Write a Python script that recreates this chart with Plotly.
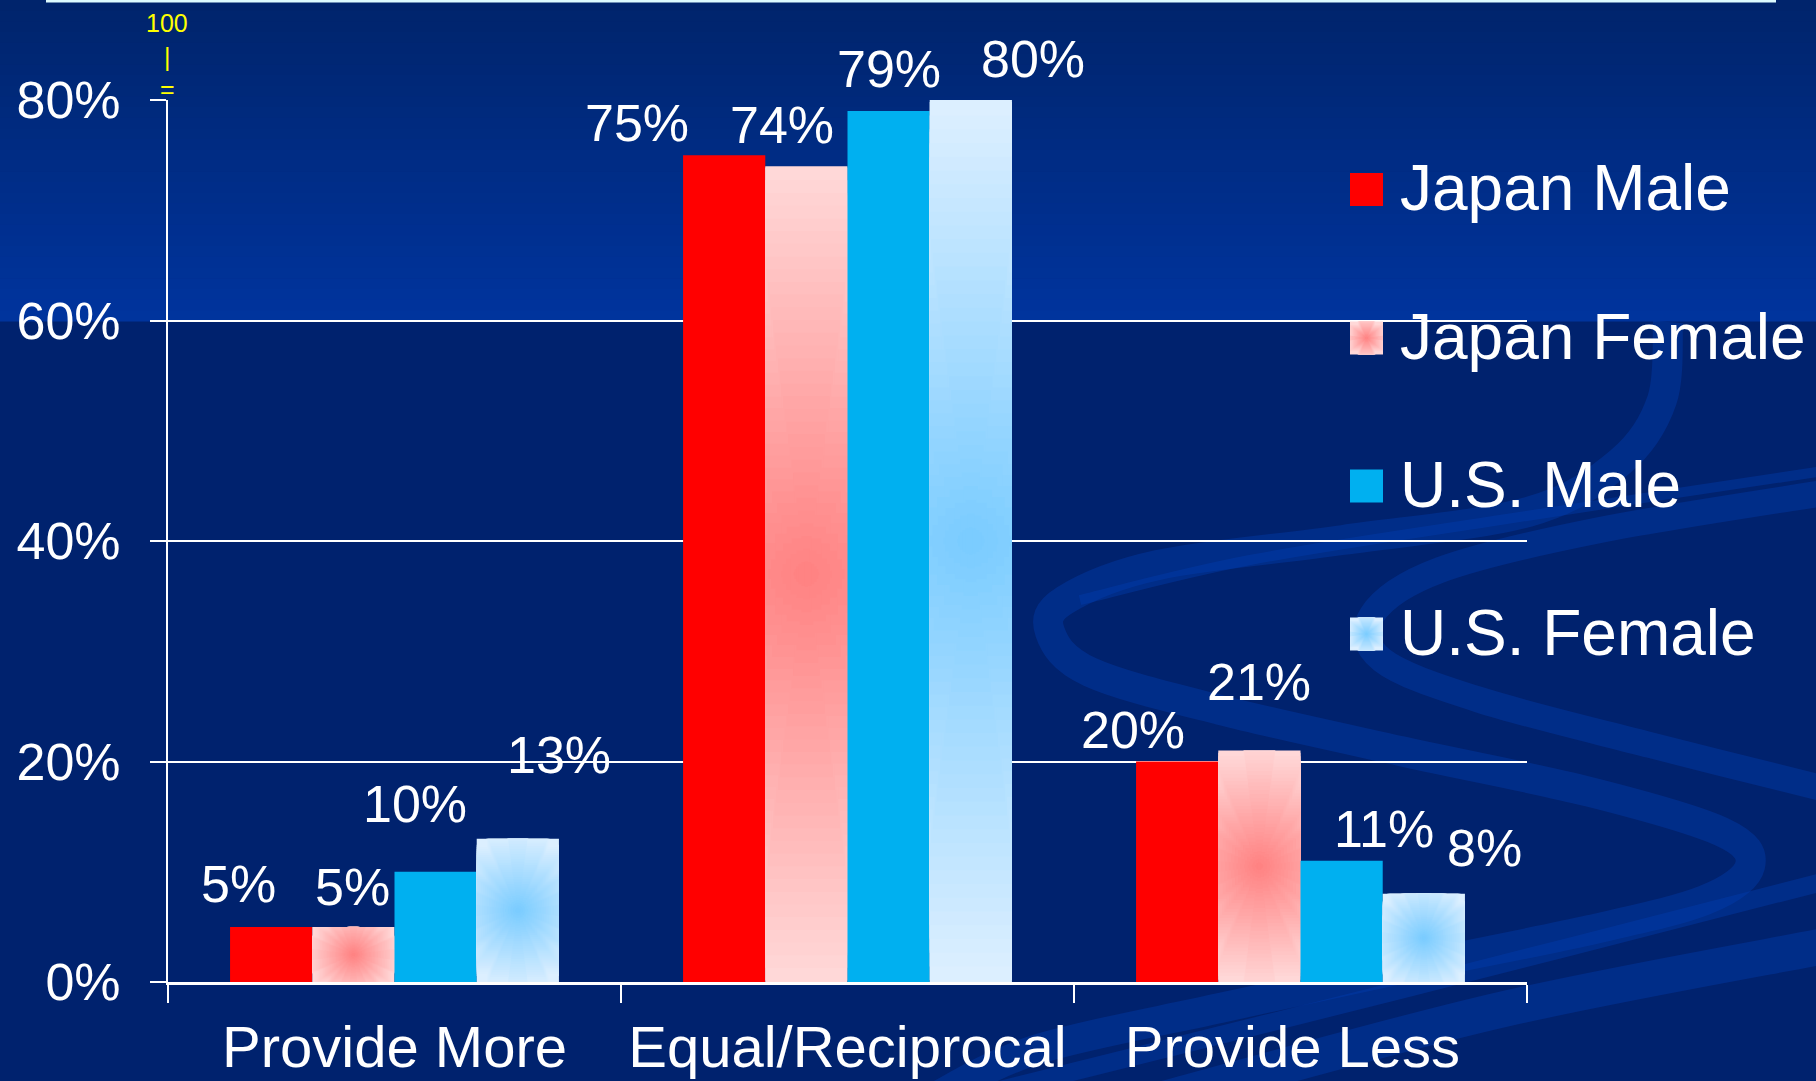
import math
import plotly.graph_objects as go

# ---- data ----
categories = ["Provide More", "Equal/Reciprocal", "Provide Less"]
category_text = ["Provide More", "Equal/Reciprocal", "Provide Less\u00a0"]
series_names = ["Japan Male", "Japan Female", "U.S. Male", "U.S. Female"]
japan_male = [5, 75, 20]
japan_female = [5, 74, 21]
us_male = [10, 79, 11]
us_female = [13, 80, 8]
y_ticks = [0, 20, 40, 60, 80]
y_tick_text = [f"{v}%" for v in y_ticks]

# ---- layout constants (px) ----
FIG_W, FIG_H = 1816, 1081
M_L, M_R, M_T, M_B = 168, 289, 100, 99
PLOT_W = FIG_W - M_L - M_R
PLOT_H = FIG_H - M_T - M_B
Y_MAX = 80
BARGAP = 0.274
SLOT = (1 - BARGAP) / 4          # bar width in category units
PX_X = PLOT_W / len(categories)  # px per category unit
PX_Y = PLOT_H / Y_MAX            # px per percent
FONT = "Liberation Sans, Arial, sans-serif"

# label placement relative to each bar top centre (px): one row per series
label_offsets = [
    [(-33, 43), (-87, 32), (-44, 32)],
    [(-1, 40), (-24, 41), (0, 68)],
    [(-21, 68), (0, 42), (42, 32)],
    [(41, 84), (62, 41), (61, 46)],
]


def rgb(h):
    h = h.lstrip("#")
    return tuple(int(h[i:i + 2], 16) for i in (0, 2, 4))


def mix(c1, c2, t):
    a, b = rgb(c1), rgb(c2)
    return "rgb(%d,%d,%d)" % tuple(round(a[i] + (b[i] - a[i]) * t) for i in range(3))


def px_x(x):
    return (x - M_L) / PLOT_W


def px_y(y):
    return (FIG_H - M_B - y) / PLOT_H


def slot_center(j):
    return -0.5 + BARGAP / 2 + (j + 0.5) * SLOT


series_styles = [
    ("#FF0000", None),
    ("#FFD8D8", "#FF8080"),
    ("#00B0F0", None),
    ("#DCEFFF", "#78CBFF"),
]
series_values = [japan_male, japan_female, us_male, us_female]

# a disc of radius 1 approximated by the union of centred rectangles
N_PARTS = 6
DISC_PARTS = [(math.cos(math.radians((i + 0.5) * 90 / N_PARTS)),
               math.sin(math.radians((i + 0.5) * 90 / N_PARTS))) for i in range(N_PARTS)]

fig = go.Figure()
N_LAYERS = 32

for j, (name, vals, (edge, centre)) in enumerate(zip(series_names, series_values, series_styles)):
    fig.add_trace(go.Bar(
        x=categories, y=vals, name=name, width=SLOT,
        offset=slot_center(j) - SLOT / 2,
        marker=dict(color=edge, line=dict(width=0)),
        showlegend=False, hoverinfo="x+y+name",
    ))
    if centre is None:
        continue
    # radial fill from the bar centre: nested discs clipped to the bar
    for k in range(N_LAYERS):
        t = 1 - k / N_LAYERS
        colour = mix(edge, centre, 1 - t)
        for fx, fy in DISC_PARTS:
            ys, bases, widths, offsets = [], [], [], []
            for v in vals:
                wpx, hpx = SLOT * PX_X, v * PX_Y
                rho = t * math.hypot(wpx / 2, hpx / 2)
                hw, hh = min(wpx / 2, fx * rho), min(hpx / 2, fy * rho)
                widths.append(2 * hw / PX_X)
                offsets.append(slot_center(j) - hw / PX_X)
                bases.append(v / 2 - hh / PX_Y)
                ys.append(2 * hh / PX_Y)
            fig.add_trace(go.Bar(
                x=categories, y=ys, base=bases, width=widths, offset=offsets,
                marker=dict(color=colour, line=dict(width=0)),
                showlegend=False, hoverinfo="skip",
            ))

# ---- value labels ----
annotations = []
for j, vals in enumerate(series_values):
    for c, v in enumerate(vals):
        dx, dy = label_offsets[j][c]
        annotations.append(dict(
            x=c + slot_center(j), y=v, xref="x", yref="y", text=f"{v}%",
            showarrow=False, xanchor="center", yanchor="middle",
            xshift=dx, yshift=dy, font=dict(family=FONT, size=52, color="white"),
        ))

# small yellow marks above the value axis
for txt, yy in [("100", 23), ("|", 57), ("=", 89)]:
    annotations.append(dict(
        x=px_x(167), y=px_y(yy), xref="paper", yref="paper", text=txt,
        showarrow=False, xanchor="center", yanchor="middle",
        font=dict(family=FONT, size=25, color="#FFFF00"),
    ))

shapes = []

# background: brighter band across the top
N_STRIPS = 30
BAND_BOTTOM = 321
for i in range(N_STRIPS):
    y0 = BAND_BOTTOM * i / N_STRIPS
    y1 = BAND_BOTTOM * (i + 1) / N_STRIPS + 0.6
    shapes.append(dict(
        type="rect", xref="paper", yref="paper", layer="below",
        x0=px_x(0), x1=px_x(FIG_W), y0=px_y(y1), y1=px_y(y0),
        fillcolor=mix("#00246B", "#00349E", (i + 0.5) / N_STRIPS), line=dict(width=0),
    ))

# thin light rule at the very top
shapes.append(dict(
    type="rect", xref="paper", yref="paper", layer="above",
    x0=px_x(46), x1=px_x(1776), y0=px_y(2.5), y1=px_y(0),
    fillcolor="#DDFBFF", line=dict(width=0),
))


def smooth(points):
    """Catmull-Rom through pixel points -> SVG cubic path in paper units."""
    p = [(px_x(x), px_y(y)) for x, y in points]
    d = "M %.5f,%.5f" % p[0]
    for i in range(len(p) - 1):
        p0 = p[i - 1] if i > 0 else p[i]
        p1, p2 = p[i], p[i + 1]
        p3 = p[i + 2] if i + 2 < len(p) else p[i + 1]
        c1 = (p1[0] + (p2[0] - p0[0]) / 6, p1[1] + (p2[1] - p0[1]) / 6)
        c2 = (p2[0] - (p3[0] - p1[0]) / 6, p2[1] - (p3[1] - p1[1]) / 6)
        d += " C %.5f,%.5f %.5f,%.5f %.5f,%.5f" % (c1 + c2 + p2)
    return d


# decorative swirl ribbons in the lower right
ribbons = [
    ([(1668, 322), (1662, 400), (1620, 462), (1528, 512), (1343, 540), (1158, 565),
      (1065, 600), (1050, 632), (1090, 672), (1220, 710), (1405, 752), (1590, 792),
      (1722, 832), (1750, 866), (1705, 900), (1590, 930), (1405, 968), (1220, 1008),
      (1035, 1050), (930, 1100)], 30),
    ([(1830, 492), (1600, 530), (1440, 570), (1372, 615), (1382, 660), (1480, 700),
      (1650, 745), (1830, 790)], 26),
    ([(1830, 470), (1500, 520), (1250, 560), (1080, 600)], 10),
    ([(1830, 945), (1500, 1010), (1160, 1100)], 36),
    ([(1830, 880), (1400, 990), (1000, 1090)], 18),
]
for pts, w in ribbons:
    shapes.append(dict(
        type="path", xref="paper", yref="paper", layer="below", path=smooth(pts),
        line=dict(color="rgba(0,62,180,0.38)", width=w), fillcolor="rgba(0,0,0,0)",
    ))

# ---- legend ----
legend_y = [189.5, 338, 486, 634]
SQ_X0, SQ_X1, SQ_H = 1350, 1383, 33
for (edge, centre), name, yc in zip(series_styles, series_names, legend_y):
    shapes.append(dict(
        type="rect", xref="paper", yref="paper", layer="above",
        x0=px_x(SQ_X0), x1=px_x(SQ_X1), y0=px_y(yc + SQ_H / 2), y1=px_y(yc - SQ_H / 2),
        fillcolor=edge, line=dict(width=0),
    ))
    if centre is not None:
        half = (SQ_X1 - SQ_X0) / 2
        cx = (SQ_X0 + SQ_X1) / 2
        for k in range(16):
            t = 1 - k / 16
            rho = t * math.hypot(half, SQ_H / 2)
            for fx, fy in DISC_PARTS[::2]:
                sx, sy = min(half, fx * rho), min(SQ_H / 2, fy * rho)
                shapes.append(dict(
                    type="rect", xref="paper", yref="paper", layer="above",
                    x0=px_x(cx - sx), x1=px_x(cx + sx),
                    y0=px_y(yc + sy), y1=px_y(yc - sy),
                    fillcolor=mix(edge, centre, 1 - t), line=dict(width=0),
                ))
    annotations.append(dict(
        x=px_x(1398), y=px_y(yc - 1), xref="paper", yref="paper", text=name,
        showarrow=False, xanchor="left", yanchor="middle",
        font=dict(family=FONT, size=64, color="white"),
    ))

fig.update_layout(
    width=FIG_W, height=FIG_H,
    margin=dict(l=M_L, r=M_R, t=M_T, b=M_B, autoexpand=False),
    paper_bgcolor="#00226E", plot_bgcolor="rgba(0,0,0,0)",
    barmode="overlay", showlegend=False,
    font=dict(family=FONT, color="white"),
    shapes=shapes, annotations=annotations,
    xaxis=dict(
        type="category", range=[-0.5, 2.5], showgrid=False, zeroline=False,
        tickvals=categories, ticktext=category_text,
        showline=True, linecolor="white", linewidth=3,
        ticks="outside", tickson="boundaries", ticklen=18, tickwidth=2, tickcolor="white",
        tickfont=dict(family=FONT, size=58, color="white"), ticklabelstandoff=12,
    ),
    yaxis=dict(
        range=[0, Y_MAX], tickvals=y_ticks, ticktext=y_tick_text,
        showgrid=True, gridcolor="white", gridwidth=2, zeroline=False,
        showline=True, linecolor="white", linewidth=2,
        ticks="outside", ticklen=16, tickwidth=2, tickcolor="white",
        tickfont=dict(family=FONT, size=52, color="white"), ticklabelstandoff=19,
    ),
)

fig.write_html("out.html")
